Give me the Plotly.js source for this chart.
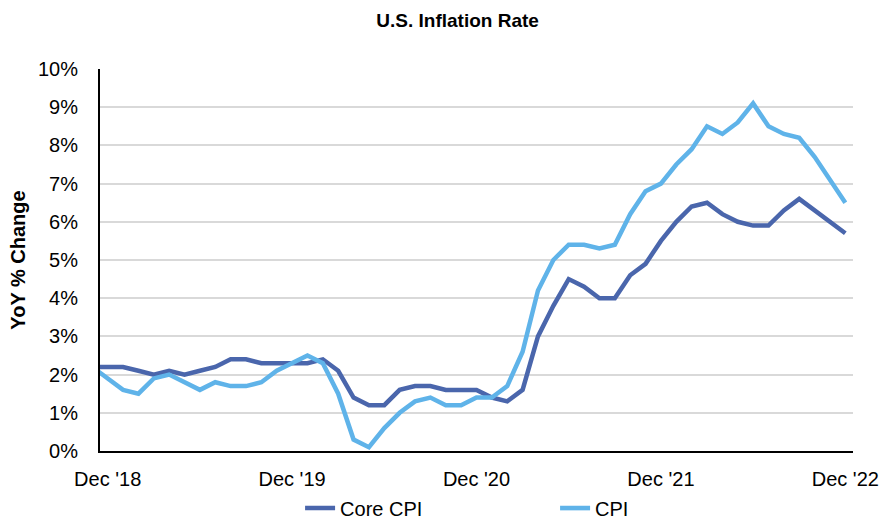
<!DOCTYPE html>
<html>
<head>
<meta charset="utf-8">
<script src="https://cdn.plot.ly/plotly-3.0.1.min.js"></script>
<style>
  body { margin: 0; background: #fff; }
  #inflation_graph { width: 880px; height: 519px; }
</style>
</head>
<body>
<div id="inflation_graph"></div>
<script>
// months from Nov '18 to Dec '22 (Nov '18 sits just left of the axis and gets clipped)
const months = [
  "Nov '18", "Dec '18",
  "Jan '19", "Feb '19", "Mar '19", "Apr '19", "May '19", "Jun '19",
  "Jul '19", "Aug '19", "Sep '19", "Oct '19", "Nov '19", "Dec '19",
  "Jan '20", "Feb '20", "Mar '20", "Apr '20", "May '20", "Jun '20",
  "Jul '20", "Aug '20", "Sep '20", "Oct '20", "Nov '20", "Dec '20",
  "Jan '21", "Feb '21", "Mar '21", "Apr '21", "May '21", "Jun '21",
  "Jul '21", "Aug '21", "Sep '21", "Oct '21", "Nov '21", "Dec '21",
  "Jan '22", "Feb '22", "Mar '22", "Apr '22", "May '22", "Jun '22",
  "Jul '22", "Aug '22", "Sep '22", "Oct '22", "Nov '22", "Dec '22"
];

const core_cpi = [
  2.2, 2.2,
  2.2, 2.1, 2.0, 2.1, 2.0, 2.1, 2.2, 2.4, 2.4, 2.3, 2.3, 2.3,
  2.3, 2.4, 2.1, 1.4, 1.2, 1.2, 1.6, 1.7, 1.7, 1.6, 1.6, 1.6,
  1.4, 1.3, 1.6, 3.0, 3.8, 4.5, 4.3, 4.0, 4.0, 4.6, 4.9, 5.5,
  6.0, 6.4, 6.5, 6.2, 6.0, 5.9, 5.9, 6.3, 6.6, 6.3, 6.0, 5.7
];

const cpi = [
  2.2, 1.9,
  1.6, 1.5, 1.9, 2.0, 1.8, 1.6, 1.8, 1.7, 1.7, 1.8, 2.1, 2.3,
  2.5, 2.3, 1.5, 0.3, 0.1, 0.6, 1.0, 1.3, 1.4, 1.2, 1.2, 1.4,
  1.4, 1.7, 2.6, 4.2, 5.0, 5.4, 5.4, 5.3, 5.4, 6.2, 6.8, 7.0,
  7.5, 7.9, 8.5, 8.3, 8.6, 9.1, 8.5, 8.3, 8.2, 7.7, 7.1, 6.5
];

const tick_months = ["Dec '18", "Dec '19", "Dec '20", "Dec '21", "Dec '22"];
const y_ticks = [0, 1, 2, 3, 4, 5, 6, 7, 8, 9, 10];

const font_family = "Liberation Sans, Arial, sans-serif";

let data = [
  {
    name: "Core CPI",
    x: months,
    y: core_cpi,
    type: "scatter",
    mode: "lines",
    line: { color: "#4a66ac", width: 4.5 }
  },
  {
    name: "CPI",
    x: months,
    y: cpi,
    type: "scatter",
    mode: "lines",
    line: { color: "#5fb3e9", width: 4.5 }
  }
];

let layout = {
  width: 880,
  height: 519,
  margin: { l: 100, r: 27, t: 69, b: 68 },
  paper_bgcolor: "#fff",
  plot_bgcolor: "#fff",
  font: { family: font_family, size: 20, color: "#000" },
  title: {
    text: "<b>U.S. Inflation Rate</b>",
    font: { family: font_family, size: 19, color: "#000" },
    x: 0.52,
    xref: "container",
    y: 0.961,
    yref: "container",
    yanchor: "middle"
  },
  xaxis: {
    type: "category",
    range: [0.5, 49.5],
    tickvals: tick_months,
    ticktext: tick_months,
    tickangle: 0,
    showgrid: false,
    showline: true,
    linecolor: "#000",
    linewidth: 2,
    ticks: "",
    ticklabelstandoff: 9,
    zeroline: false,
    automargin: false,
    tickfont: { size: 20 }
  },
  yaxis: {
    range: [0, 10],
    tickvals: y_ticks,
    ticktext: y_ticks.map(v => v + "%"),
    showgrid: true,
    gridcolor: "#d9d9d9",
    gridwidth: 2,
    showline: true,
    linecolor: "#000",
    linewidth: 2,
    ticks: "",
    ticklabelstandoff: 16,
    zeroline: false,
    automargin: false,
    tickfont: { size: 20 },
    title: {
      text: "<b>YoY % Change</b>",
      font: { family: font_family, size: 20, color: "#000" },
      standoff: 7
    }
  },
  showlegend: true,
  legend: {
    orientation: "h",
    xref: "container",
    yref: "container",
    x: 0.341,
    xanchor: "left",
    y: 0.021,
    yanchor: "middle",
    entrywidth: 210,
    font: { family: font_family, size: 20, color: "#000" }
  }
};

Plotly.newPlot("inflation_graph", data, layout, { displayModeBar: false, staticPlot: true });
</script>
</body>
</html>
